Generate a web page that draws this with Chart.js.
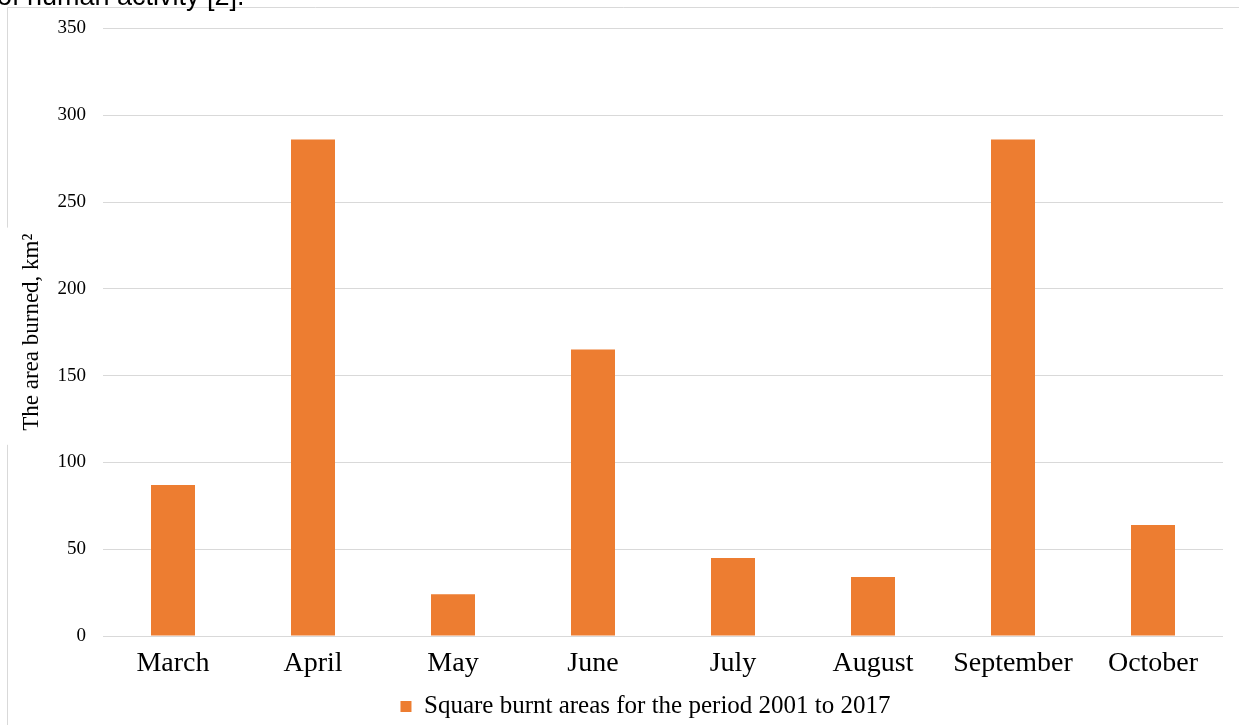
<!DOCTYPE html>
<html>
<head>
<meta charset="utf-8">
<script src="https://cdn.jsdelivr.net/npm/chart.js@4.4.1/dist/chart.umd.min.js"></script>
<style>
  html, body { margin: 0; padding: 0; background: #fff; }
  #wrap { width: 1239px; height: 725px; position: relative; }
</style>
</head>
<body>
<div id="wrap"><canvas id="burnChart"></canvas></div>
<script>
const months = ['March', 'April', 'May', 'June', 'July', 'August', 'September', 'October'];
const burntArea = [87, 286, 24, 165, 45, 34, 286, 64];
const yTicks = [0, 50, 100, 150, 200, 250, 300, 350];
const seriesLabel = 'Square burnt areas for the period 2001 to 2017';
const yTitle = 'The area burned, km²';
const captionTail = 'of human activity [2].';

const serif = '"Liberation Serif", "Times New Roman", serif';
const gridGray = '#d9d9d9';

// frame around the figure, broken where the axis title sits, plus the clipped caption above it
const framePlugin = {
  id: 'frame',
  beforeDraw(chart) {
    const ctx = chart.ctx;
    const area = chart.chartArea;
    ctx.save();
    ctx.font = '23px ' + serif;
    const half = ctx.measureText(yTitle).width / 2 + 10;
    const mid = (area.top + area.bottom) / 2 + 4;
    ctx.strokeStyle = gridGray;
    ctx.lineWidth = 1;
    ctx.beginPath();
    ctx.moveTo(7.5, chart.height);
    ctx.lineTo(7.5, mid + half);
    ctx.moveTo(7.5, mid - half);
    ctx.lineTo(7.5, 7.5);
    ctx.lineTo(chart.width, 7.5);
    ctx.stroke();
    ctx.restore();
  },
  afterDraw(chart) {
    const ctx = chart.ctx;
    ctx.save();
    ctx.fillStyle = '#000';
    ctx.font = '27px "Liberation Sans", Arial, sans-serif';
    ctx.textBaseline = 'alphabetic';
    ctx.fillText(captionTail, -3, 5);
    ctx.restore();
  }
};

// nudge the legend to the right of the canvas centre
const legendShift = {
  id: 'legendShift',
  afterLayout(chart) {
    chart.legend.left += 34;
    chart.legend.right += 34;
  }
};

new Chart(document.getElementById('burnChart').getContext('2d'), {
  type: 'bar',
  data: {
    labels: months,
    datasets: [{
      label: seriesLabel,
      data: burntArea,
      backgroundColor: '#ED7D31',
      borderWidth: 0,
      barPercentage: 44 / 140,
      categoryPercentage: 1
    }]
  },
  options: {
    responsive: true,
    maintainAspectRatio: false,
    animation: false,
    layout: { padding: { top: 26, right: 16, left: 0, bottom: -4 } },
    plugins: {
      tooltip: { enabled: false },
      legend: {
        position: 'bottom',
        labels: {
          boxWidth: 11,
          boxHeight: 11,
          padding: 10,
          color: '#000',
          font: { family: serif, size: 25 }
        }
      }
    },
    scales: {
      x: {
        grid: { display: false },
        border: { display: false },
        ticks: {
          color: '#000',
          padding: 3,
          maxRotation: 0,
          font: { family: serif, size: 28 }
        },
        afterFit(scale) { scale.height = 48; }
      },
      y: {
        min: 0,
        max: 350,
        afterBuildTicks(scale) { scale.ticks = yTicks.map(v => ({ value: v })); },
        grid: { color: gridGray, drawTicks: false },
        border: { display: false },
        ticks: {
          color: '#000',
          padding: 17,
          font: { family: serif, size: 19 }
        },
        title: {
          display: true,
          text: yTitle,
          color: '#000',
          padding: { top: 18, bottom: 0 },
          font: { family: serif, size: 23 }
        },
        afterFit(scale) { scale.width = 103; }
      }
    }
  },
  plugins: [framePlugin, legendShift]
});
</script>
</body>
</html>
